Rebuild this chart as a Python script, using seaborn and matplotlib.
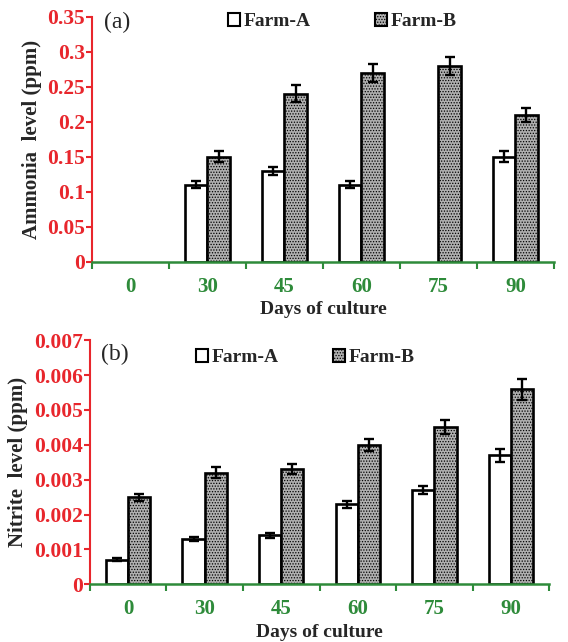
import numpy as np
import pandas as pd
import seaborn as sns
import matplotlib.pyplot as plt
from matplotlib.patches import Patch

days = ["0", "30", "45", "60", "75", "90"]
farms = ["Farm-A", "Farm-B"]

ammonia_a = [0.0, 0.11, 0.13, 0.11, 0.0, 0.15]
ammonia_a_err = [0.0, 0.005, 0.006, 0.005, 0.0, 0.008]
ammonia_b = [0.0, 0.15, 0.24, 0.27, 0.28, 0.21]
ammonia_b_err = [0.0, 0.008, 0.012, 0.013, 0.013, 0.010]

nitrite_a = [0.0007, 0.0013, 0.0014, 0.0023, 0.0027, 0.0037]
nitrite_a_err = [0.00004, 0.00006, 0.00006, 0.0001, 0.00012, 0.00018]
nitrite_b = [0.0025, 0.0032, 0.0033, 0.0040, 0.0045, 0.0056]
nitrite_b_err = [0.0001, 0.00016, 0.00015, 0.00018, 0.0002, 0.0003]

sns.set_style("white")
plt.rcParams['font.family'] = ['Liberation Serif', 'DejaVu Serif']
plt.rcParams['hatch.color'] = '#303030'
plt.rcParams['hatch.linewidth'] = 0.6

RED = '#e8262c'
GREEN = '#2e8b3a'

fig = plt.figure(figsize=(5.68, 6.42), dpi=100)
ax1 = fig.add_axes([0.162, 0.592, 0.813, 0.382])
ax2 = fig.add_axes([0.158, 0.090, 0.809, 0.380])


def draw(ax, a, ae, b, be, ymax, ystep, fmt, ylabel, tag, tag_y,
         leg_anchor, colspace):
    df = pd.DataFrame({
        "day": days * 2,
        "farm": [farms[0]] * len(days) + [farms[1]] * len(days),
        "value": list(a) + list(b),
    })
    sns.barplot(data=df, x="day", y="value", hue="farm", order=days,
                hue_order=farms, palette=['white', '#b0b0b0'], width=0.58,
                edgecolor='black', linewidth=1.9, errorbar=None, ax=ax,
                legend=False)
    errs = [ae, be]
    bar_containers = list(ax.containers)[:2]
    for ci, cont in enumerate(bar_containers):
        for i, p in enumerate(list(cont.patches)):
            if ci == 1:
                p.set_hatch('......')
            h = p.get_height()
            if h == 0:
                p.set_visible(False)
                continue
            xc = p.get_x() + p.get_width() / 2
            ax.errorbar(xc, h, yerr=errs[ci][i], fmt='none', ecolor='black',
                        elinewidth=1.7, capsize=3.5, capthick=1.7, zorder=5)
    ax.set_ylim(0, ymax)
    ax.set_xlim(-0.5, len(days) - 0.5)
    yt = np.arange(0, ymax + ystep / 2, ystep)
    ax.set_yticks(yt)
    ax.set_yticklabels([fmt(v) for v in yt])
    ax.set_xticks(range(len(days)))
    ax.set_xticks(np.arange(-0.5, len(days)), minor=True)
    ax.tick_params(axis='x', which='major', length=0, colors=GREEN,
                   labelsize=15, pad=11)
    ax.tick_params(axis='x', which='minor', length=5, width=1.5,
                   color=GREEN, direction='out', bottom=True)
    ax.tick_params(axis='y', length=4, width=1.5, color=RED,
                   labelcolor=RED, labelsize=15.5, direction='out', left=True,
                   pad=1)
    for lab in ax.get_xticklabels() + ax.get_yticklabels():
        lab.set_fontweight('bold')
    for s in ['top', 'right']:
        ax.spines[s].set_visible(False)
    ax.spines['left'].set_color(RED)
    ax.spines['left'].set_linewidth(1.5)
    ax.spines['bottom'].set_color(GREEN)
    ax.spines['bottom'].set_linewidth(1.8)
    ax.spines['bottom'].set_zorder(6)
    ax.set_xlabel("Days of culture", fontsize=14, fontweight='bold',
                  labelpad=3)
    ax.set_ylabel(ylabel, fontsize=15, fontweight='bold', labelpad=4)
    ax.text(0.025, tag_y, tag, transform=ax.transAxes, fontsize=17,
            va='top', ha='left')
    handles = [Patch(facecolor='white', edgecolor='black', linewidth=1.5),
               Patch(facecolor='#b0b0b0', edgecolor='black', linewidth=1.5,
                     hatch='......')]
    ax.legend(handles, farms, loc='upper left', bbox_to_anchor=leg_anchor,
              ncol=2, frameon=False, prop={'weight': 'bold', 'size': 14},
              handlelength=0.6, handleheight=0.6, handletextpad=0.2,
              columnspacing=colspace, borderaxespad=0)


draw(ax1, ammonia_a, ammonia_a_err, ammonia_b, ammonia_b_err, 0.35, 0.05,
     lambda v: f"{v:.2f}".rstrip('0').rstrip('.') if v != 0 else "0",
     "Ammonia  level (ppm)", "(a)", 1.02, (0.278, 1.045), 3.3)
draw(ax2, nitrite_a, nitrite_a_err, nitrite_b, nitrite_b_err, 0.007, 0.001,
     lambda v: f"{v:.3f}" if v != 0 else "0",
     "Nitrite  level (ppm)", "(b)", 0.985, (0.215, 0.995), 2.8)

fig.savefig("out.png", dpi=100)
